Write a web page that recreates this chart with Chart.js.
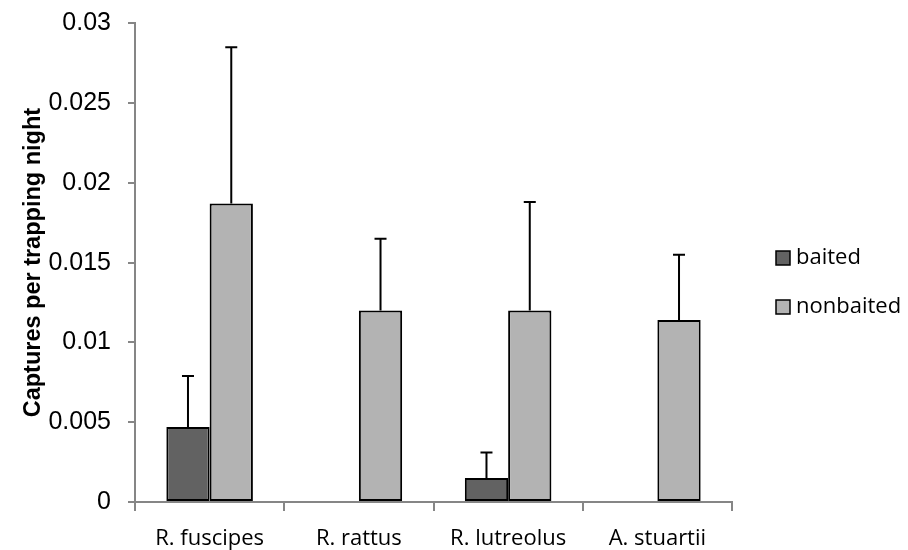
<!DOCTYPE html>
<html>
<head>
<meta charset="utf-8">
<script src="https://cdn.jsdelivr.net/npm/chart.js@4.4.1/dist/chart.umd.min.js"></script>
<style>
  html, body { margin: 0; padding: 0; background: #fff; }
  #wrap { width: 908px; height: 550px; }
</style>
</head>
<body>
<div id="wrap"><canvas id="chart" width="908" height="550"></canvas></div>
<script>
// captures per trapping night, by species
const species = ["R. fuscipes", "R. rattus", "R. lutreolus", "A. stuartii"];
const baited = [0.0047, 0, 0.0015, 0];
const nonbaited = [0.0187, 0.012, 0.012, 0.0114];
// top of each error bar (mean + error)
const baitedUpper = [0.0079, null, 0.0031, null];
const nonbaitedUpper = [0.0285, 0.0165, 0.0188, 0.0155];
const yTicks = [0, 0.005, 0.01, 0.015, 0.02, 0.025, 0.03];

const labelFont = "'Open Sans', sans-serif";
const arial = "'Liberation Sans', Arial, sans-serif";
const axisGrey = "#868686";

// draws the upper error whiskers with a cap
const errorBars = {
    id: "errorBars",
    afterDatasetsDraw(chart) {
        const ctx = chart.ctx;
        const y = chart.scales.y;
        chart.data.datasets.forEach(function(ds, i) {
            const meta = chart.getDatasetMeta(i);
            meta.data.forEach(function(bar, j) {
                const top = ds.upper[j];
                if (top == null) return;
                const yTop = y.getPixelForValue(top);
                const yBar = y.getPixelForValue(ds.data[j]);
                ctx.save();
                ctx.strokeStyle = "#000";
                ctx.lineWidth = 2;
                ctx.beginPath();
                ctx.moveTo(bar.x, yBar);
                ctx.lineTo(bar.x, yTop);
                ctx.moveTo(bar.x - 6, yTop);
                ctx.lineTo(bar.x + 6, yTop);
                ctx.stroke();
                ctx.restore();
            });
        });
    }
};

// legend at the right, square swatches
const sideLegend = {
    id: "sideLegend",
    afterDraw(chart) {
        const ctx = chart.ctx;
        const x0 = 776, y0 = 258, step = 49;
        chart.data.datasets.forEach(function(ds, i) {
            const cy = y0 + i * step;
            ctx.save();
            ctx.fillStyle = ds.backgroundColor;
            ctx.fillRect(x0, cy - 7, 14, 14);
            ctx.strokeStyle = "#000";
            ctx.lineWidth = 1.5;
            ctx.strokeRect(x0, cy - 7, 14, 14);
            ctx.fillStyle = "#000";
            ctx.font = "22px " + labelFont;
            ctx.textBaseline = "middle";
            ctx.fillText(ds.label, x0 + 20, cy);
            ctx.restore();
        });
    }
};

new Chart(document.getElementById("chart").getContext("2d"), {
    type: "bar",
    data: {
        labels: species,
        datasets: [{
            label: "baited",
            data: baited,
            upper: baitedUpper,
            backgroundColor: "#626262",
            borderColor: "#000",
            borderWidth: 2,
            borderSkipped: false
        }, {
            label: "nonbaited",
            data: nonbaited,
            upper: nonbaitedUpper,
            backgroundColor: "#b3b3b3",
            borderColor: "#000",
            borderWidth: 2,
            borderSkipped: false
        }]
    },
    options: {
        responsive: false,
        animation: false,
        categoryPercentage: 0.58,
        barPercentage: 1.0,
        layout: { padding: { top: 23, right: 176, left: 19, bottom: 0 } },
        plugins: {
            legend: { display: false },
            tooltip: { enabled: false }
        },
        scales: {
            x: {
                grid: {
                    display: true,
                    drawOnChartArea: false,
                    offset: true,
                    tickLength: 9,
                    color: axisGrey,
                    lineWidth: 2
                },
                border: { color: axisGrey, width: 2 },
                ticks: {
                    color: "#000",
                    font: { family: labelFont, size: 22 },
                    padding: 15
                },
                afterFit: function(scale) { scale.height = 48; }
            },
            y: {
                min: 0,
                max: 0.03,
                afterBuildTicks: function(scale) {
                    scale.ticks = yTicks.map(function(v) { return { value: v }; });
                },
                grid: {
                    display: true,
                    drawOnChartArea: false,
                    tickLength: 7,
                    color: axisGrey,
                    lineWidth: 2
                },
                border: { color: axisGrey, width: 2 },
                ticks: {
                    color: "#000",
                    font: { family: arial, size: 25, lineHeight: 0.5 },
                    padding: 17,
                    callback: function(v) { return String(v); }
                },
                title: {
                    display: true,
                    text: "Captures per trapping night",
                    color: "#000",
                    font: { family: arial, size: 23.5, weight: "bold" },
                    padding: { top: 0, bottom: 0 }
                },
                afterFit: function(scale) { scale.width = 116; }
            }
        }
    },
    plugins: [errorBars, sideLegend]
});
</script>
</body>
</html>
